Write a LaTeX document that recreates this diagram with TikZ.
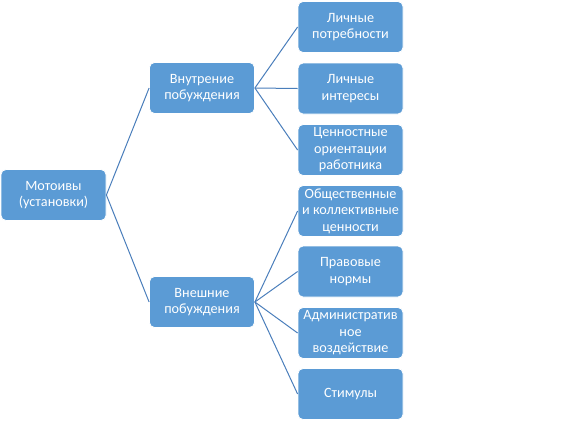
\documentclass[tikz,border=0pt]{standalone}
\usepackage{fontspec}
\setmainfont{Carlito}
\definecolor{boxblue}{HTML}{5B9BD5}
\definecolor{lineblue}{HTML}{4A7EBB}
\begin{document}
\begin{tikzpicture}[x=1pt,y=-1pt,
  box/.style={draw=white, line width=0.8pt, fill=boxblue, rounded corners=5pt,
    minimum width=105pt, minimum height=51pt, inner sep=1pt, text=white,
    align=center, font=\fontsize{14.2}{16.5}\selectfont},
  conn/.style={draw=lineblue, line width=1pt}]
\useasboundingbox (0,0) rectangle (585,421);
\node[box] (root) at (53.5,195) {Мотоивы\\(установки)};
\node[box] (in) at (202,88) {Внутрение\\побуждения};
\node[box] (out) at (202,302) {Внешние\\побуждения};
\node[box] (a1) at (350.5,27) {Личные\\потребности};
\node[box] (a2) at (350.5,88.5) {Личные\\интересы};
\node[box] (a3) at (350.5,150) {Ценностные\\ориентации\\работника};
\node[box] (b1) at (350.5,211) {Общественные\\и коллективные\\ценности};
\node[box] (b2) at (350.5,271.5) {Правовые\\нормы};
\node[box] (b3) at (350.5,333) {Административ\\ное\\воздействие};
\node[box] (b4) at (350.5,394) {Стимулы};
\foreach \t in {in,out} \draw[conn] (root.east) -- (\t.west);
\foreach \t in {a1,a2,a3} \draw[conn] (in.east) -- (\t.west);
\foreach \t in {b1,b2,b3,b4} \draw[conn] (out.east) -- (\t.west);
\end{tikzpicture}
\end{document}
